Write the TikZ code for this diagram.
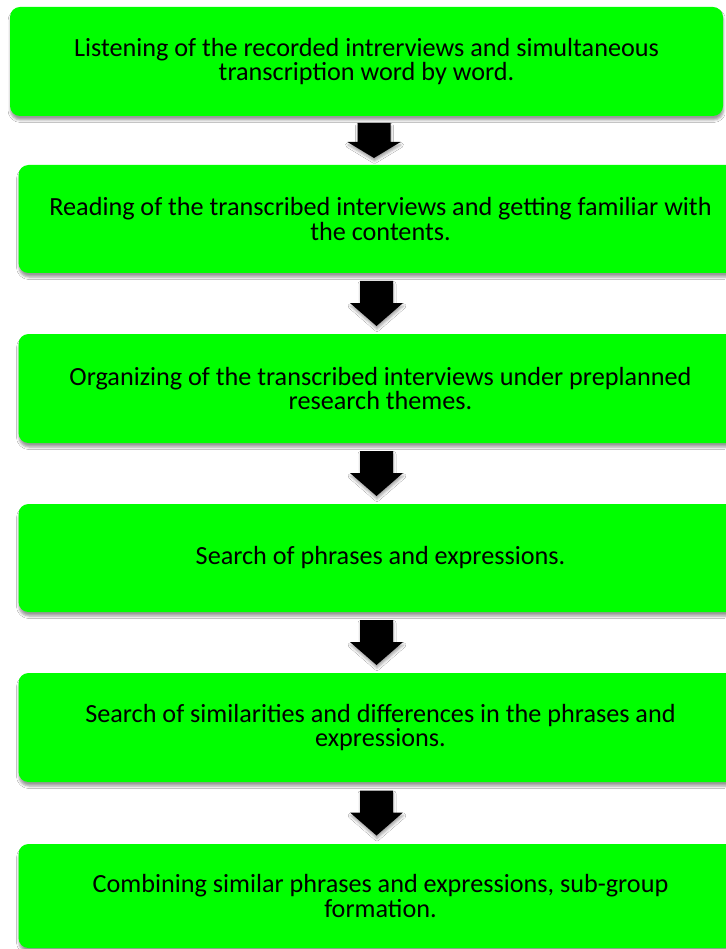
\documentclass[tikz,border=0pt]{standalone}
\usepackage{fontspec}
\setmainfont{Carlito}
\usetikzlibrary{calc,shadows.blur}
\definecolor{boxgreen}{RGB}{0,255,0}
\tikzset{
  stepbox/.style={rectangle, rounded corners=10pt, fill=boxgreen, draw=none,
    minimum height=108pt, inner sep=0pt, align=center,
    font=\fontsize{26.2}{24.8}\selectfont,
    blur shadow={shadow xshift=0.5pt, shadow yshift=-4pt, shadow blur radius=2.5pt, shadow opacity=40}},
  widebox/.style={stepbox, minimum width=724pt},
  pics/downarrow/.style 2 args={code={
    \fill[black, blur shadow={shadow xshift=0.5pt, shadow yshift=-3pt, shadow blur radius=2.5pt, shadow opacity=35}]
      (-16.5,-#1/2) -- (16.5,-#1/2) -- (16.5,-#1/2+#2) -- (26.5,-#1/2+#2)
      -- (0,#1/2) -- (-26.5,-#1/2+#2) -- (-16.5,-#1/2+#2) -- cycle;}}
}
\begin{document}
\begin{tikzpicture}[x=1pt,y=-1pt]
\useasboundingbox[fill=white] (0,0) rectangle (725,949);
% the six processing steps
\node[stepbox, minimum width=713pt, minimum height=109pt] (b1) at (366.5,61.5)
  {Listening of the recorded intrerviews and simultaneous\\transcription word by word.};
\node[widebox] (b2) at (380.5,219)
  {Reading of the transcribed interviews and getting familiar with\\the contents.};
\node[widebox, minimum height=109pt] (b3) at (380.5,388.5)
  {Organizing of the transcribed interviews under preplanned\\research themes.};
\node[widebox] (b4) at (380.5,558)
  {Search of phrases and expressions.};
\node[widebox, minimum height=109pt] (b5) at (380.5,727.5)
  {Search of similarities and differences in the phrases and\\expressions.};
\node[widebox, minimum height=104pt] (b6) at (380.5,896)
  {Combining similar phrases and expressions, sub-group\\formation.};
% block arrows between consecutive steps
\path (b1.south) -- (b2.north) coordinate[pos=.5] (m1);
\path (b2.south) -- (b3.north) coordinate[pos=.5] (m2);
\path (b3.south) -- (b4.north) coordinate[pos=.5] (m3);
\path (b4.south) -- (b5.north) coordinate[pos=.5] (m4);
\path (b5.south) -- (b6.north) coordinate[pos=.5] (m5);
\pic at (374,0 |- m1) {downarrow={35}{19}};
\pic at (376.5,0 |- m2) {downarrow={45}{22}};
\pic at (376.5,0 |- m3) {downarrow={45}{22}};
\pic at (376.5,0 |- m4) {downarrow={45}{22}};
\pic at (376.5,0 |- m5) {downarrow={45}{22}};
\end{tikzpicture}
\end{document}
